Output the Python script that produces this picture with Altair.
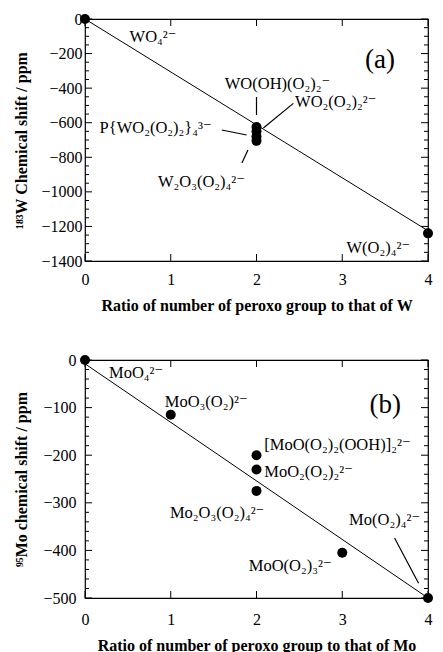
import altair as alt
import pandas as pd

SERIF = "Liberation Serif, DejaVu Serif, serif"

# ---------------- Panel (a): 183W ----------------
a_px = [0, 2, 2, 2, 2, 4]
a_py = [0, -625, -650, -680, -705, -1240]
a_fit_x = [0, 4]
a_fit_y = [0, -1225]
a_labels = ["WO₄²⁻", "WO(OH)(O₂)₂⁻", "WO₂(O₂)₂²⁻", "P{WO₂(O₂)₂}₄³⁻", "W₂O₃(O₂)₄²⁻", "W(O₂)₄²⁻"]
a_label_x = [0.52, 1.63, 2.45, 0.17, 0.85, 3.05]
a_label_y = [-104, -378, -478, -631, -943, -1325]
a_lead_x = [2.0, 2.43, 1.595, 1.90]
a_lead_y = [-451, -488, -642, -758]
a_lead_x2 = [2.0, 2.08, 1.885, 1.83]
a_lead_y2 = [-555, -631, -671, -833]
a_ydom = [-1400, 0]
a_ymaj = [0, -200, -400, -600, -800, -1000, -1200, -1400]
a_ymin = [v for v in range(-1400, 1, 50) if v % 200 != 0]
a_tag = "(a)"
a_tag_x, a_tag_y = 3.44, -237
a_xtitle = "Ratio of number of peroxo  group to that of W"
a_ytitle = "¹⁸³W Chemical shift / ppm"

# ---------------- Panel (b): 95Mo ----------------
b_px = [0, 1, 2, 2, 2, 3, 4]
b_py = [0, -115, -200, -230, -275, -405, -500]
b_fit_x = [0, 4]
b_fit_y = [-8, -500]
b_labels = ["MoO₄²⁻", "MoO₃(O₂)²⁻", "[MoO(O₂)₂(OOH)]₂²⁻", "MoO₂(O₂)₂²⁻", "Mo₂O₃(O₂)₄²⁻", "Mo(O₂)₄²⁻", "MoO(O₂)₃²⁻"]
b_label_x = [0.28, 0.93, 2.09, 2.09, 0.99, 3.08, 1.91]
b_label_y = [-27, -88, -179, -235, -322, -336, -433]
b_lead_x = [3.61]
b_lead_y = [-374]
b_lead_x2 = [3.89]
b_lead_y2 = [-469]
b_ydom = [-500, 0]
b_ymaj = [0, -100, -200, -300, -400, -500]
b_ymin = [v for v in range(-500, 1, 20) if v % 100 != 0]
b_tag = "(b)"
b_tag_x, b_tag_y = 3.5, -95
b_xtitle = "Ratio of number of peroxo group to that of Mo"
b_ytitle = "⁹⁵Mo chemical shift / ppm"

xmaj = [0, 1, 2, 3, 4]


def panel(px, py, fx, fy, labels, lx, ly, ldx, ldy, ldx2, ldy2, ydom, ymaj, ymin,
          tag, tagx, tagy, xtitle, ytitle, W, H, xlp, ylp):
    xs = alt.Scale(domain=[0, 4], nice=False, zero=False)
    ys = alt.Scale(domain=ydom, nice=False, zero=False)
    xaxis = alt.Axis(values=xmaj, format="d", labelFlush=False,
                     labelOverlap=False, labelPadding=xlp, titlePadding=10)
    yaxis = alt.Axis(values=ymaj, format="d", labelPadding=ylp,
                     labelOverlap=False, titlePadding=14,
                     minExtent=42, maxExtent=42)

    def X(f):
        return alt.X(f, scale=xs, axis=xaxis, title=xtitle)

    def Y(f):
        return alt.Y(f, scale=ys, axis=yaxis, title=ytitle)

    pts = pd.DataFrame({"x": px, "y": py})
    fit = pd.DataFrame({"x": fx, "y": fy})
    lab = pd.DataFrame({"x": lx, "y": ly, "t": labels})
    lead = pd.DataFrame({"x": ldx, "y": ldy, "x2": ldx2, "y2": ldy2})
    tg = pd.DataFrame({"x": [tagx], "y": [tagy], "t": [tag]})
    yM = pd.DataFrame({"y": ymaj})
    ym = pd.DataFrame({"y": ymin})
    xM = pd.DataFrame({"x": xmaj})

    base_pts = alt.Chart(pts).mark_circle(size=100, color="black", opacity=1).encode(
        x=X("x:Q"), y=Y("y:Q"))
    line = alt.Chart(fit).mark_line(color="black", strokeWidth=1).encode(
        x=X("x:Q"), y=Y("y:Q"))
    leads = alt.Chart(lead).mark_rule(color="black", strokeWidth=1.2).encode(
        x=X("x:Q"), y=Y("y:Q"), x2="x2:Q", y2="y2:Q")
    texts = alt.Chart(lab).mark_text(align="left", baseline="middle", font=SERIF,
                                     fontSize=16.5, color="black").encode(
        x=X("x:Q"), y=Y("y:Q"), text="t:N")
    tagm = alt.Chart(tg).mark_text(align="center", baseline="middle", font=SERIF,
                                   fontSize=27, color="black").encode(
        x=X("x:Q"), y=Y("y:Q"), text="t:N")

    def yt(df, x0, x1):
        return alt.Chart(df).mark_rule(color="black", strokeWidth=1).encode(
            y=Y("y:Q"), x=alt.value(x0), x2=alt.value(x1))

    def xt(df, y0, y1):
        return alt.Chart(df).mark_rule(color="black", strokeWidth=1).encode(
            x=X("x:Q"), y=alt.value(y0), y2=alt.value(y1))

    ticks = [
        yt(yM, 0, 7), yt(ym, 0, 4), yt(yM, W - 7, W), yt(ym, W - 4, W),
        xt(xM, H, H - 7), xt(xM, 0, 7),
    ]
    return alt.layer(line, leads, *ticks, texts, tagm, base_pts).properties(
        width=W, height=H)


pa = panel(a_px, a_py, a_fit_x, a_fit_y, a_labels, a_label_x, a_label_y,
           a_lead_x, a_lead_y, a_lead_x2, a_lead_y2, a_ydom, a_ymaj, a_ymin,
           a_tag, a_tag_x, a_tag_y, a_xtitle, a_ytitle, 343, 242, 10, 3)
pb = panel(b_px, b_py, b_fit_x, b_fit_y, b_labels, b_label_x, b_label_y,
           b_lead_x, b_lead_y, b_lead_x2, b_lead_y2, b_ydom, b_ymaj, b_ymin,
           b_tag, b_tag_x, b_tag_y, b_xtitle, b_ytitle, 343, 238, 13, 9)

chart = alt.vconcat(pa, pb, spacing=37).properties(
    padding={"left": 12, "top": 10, "right": 0, "bottom": 0},
    background="white",
).configure_view(stroke="black", strokeWidth=1.2).configure_axis(
    grid=False, domain=False, ticks=False,
    labelFont=SERIF, labelFontSize=16, labelColor="black",
    titleFont=SERIF, titleFontSize=16, titleFontWeight="bold", titleColor="black",
)

chart.save("out.html", embed_options={"renderer": "svg", "actions": False})
